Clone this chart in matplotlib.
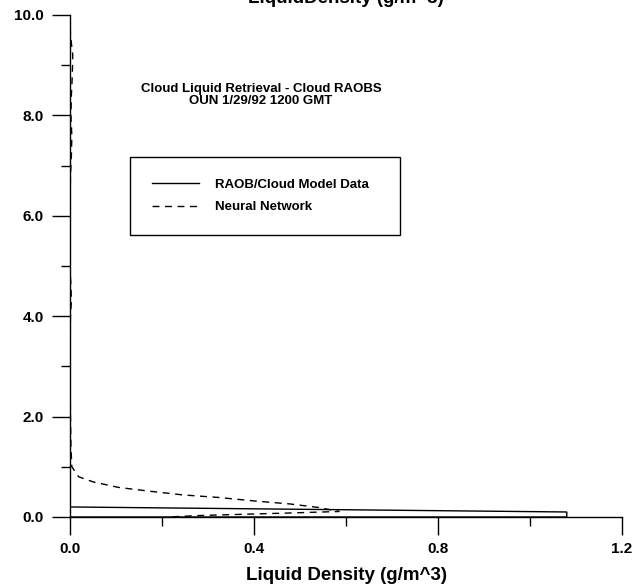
import matplotlib.pyplot as plt
import numpy as np

plt.rcParams['font.family'] = ['Liberation Sans', 'DejaVu Sans']
plt.rcParams['font.weight'] = 'bold'

# RAOB / cloud model profile (height in km, density in g/m^3)
raob_height = [10.0, 0.2, 0.1, 0.0, 0.0]
raob_density = [0.0, 0.0, 1.08, 1.08, 0.0]

# neural network retrieval
nn_height = [10.0, 9.6, 9.2, 8.8, 8.4, 8.0, 7.6, 7.2, 6.8, 6.0, 5.0, 4.6, 4.3, 4.0,
             3.0, 2.0, 1.4, 1.0, 0.8, 0.7, 0.59, 0.52, 0.44, 0.39, 0.32, 0.26, 0.19,
             0.11, 0.08, 0.05, 0.03, 0.0]
nn_density = [0.0, 0.001, 0.006, 0.005, 0.003, 0.002, 0.004, 0.003, 0.001, 0.0, 0.0,
              0.002, 0.003, 0.001, 0.0, 0.001, 0.002, 0.004, 0.019, 0.05, 0.105,
              0.167, 0.245, 0.322, 0.40, 0.478, 0.54, 0.585, 0.478, 0.361, 0.283, 0.214]

xticks = [0.0, 0.4, 0.8, 1.2]
yticks = [0.0, 2.0, 4.0, 6.0, 8.0, 10.0]

fig = plt.figure(figsize=(6.37, 5.87), dpi=100)
ax = fig.add_axes([70 / 637, 1 - 517 / 587, 552 / 637, 502 / 587])

ax.plot(raob_density, raob_height, color='black', lw=1.0,
        label='RAOB/Cloud Model Data', solid_joinstyle='miter')
ax.plot(nn_density, nn_height, color='black', lw=1.0, ls=(0, (5, 4)),
        label='Neural Network')

ax.set_xlim(0, 1.2)
ax.set_ylim(0, 10)
ax.set_xticks(xticks)
ax.set_xticklabels(['%.1f' % v for v in xticks])
ax.set_xticks([0.2, 0.6, 1.0], minor=True)
ax.set_yticks(yticks)
ax.set_yticklabels(['%.1f' % v for v in yticks])
ax.set_yticks([1, 3, 5, 7, 9], minor=True)
ax.tick_params(which='major', direction='out', length=13, width=1, labelsize=11)
ax.tick_params(axis='y', which='major', pad=6)
ax.tick_params(axis='x', which='major', pad=5)
ax.tick_params(which='minor', direction='out', length=6.5, width=1)
for side in ['top', 'right']:
    ax.spines[side].set_visible(False)
for side in ['left', 'bottom']:
    ax.spines[side].set_linewidth(1)
for lab in ax.get_xticklabels() + ax.get_yticklabels():
    lab.set_fontweight('bold')

ax.set_xlabel('Liquid Density (g/m^3)', fontsize=13.5, fontweight='bold', labelpad=8)

fig.text(346 / 637, 1 - 3 / 587, 'LiquidDensity (g/m^3)', ha='center', va='baseline',
         fontsize=13.5, fontweight='bold')

fig.text(261 / 637, 1 - 95 / 587, 'Cloud Liquid Retrieval - Cloud RAOBS\nOUN 1/29/92 1200 GMT',
         ha='center', va='center', fontsize=9.5, fontweight='bold', linespacing=1.0)

leg = ax.legend(loc='upper left', bbox_to_anchor=(130 / 637, 1 - 237 / 587, 270 / 637, 80 / 587),
                bbox_transform=fig.transFigure, mode='expand', fancybox=False,
                edgecolor='black', framealpha=1, fontsize=9.5, handlelength=3.6,
                handletextpad=1.2, borderpad=1.65, labelspacing=0.75, borderaxespad=0)
leg.get_frame().set_linewidth(1)
for t in leg.get_texts():
    t.set_fontweight('bold')

fig.savefig('out.png', dpi=100)
